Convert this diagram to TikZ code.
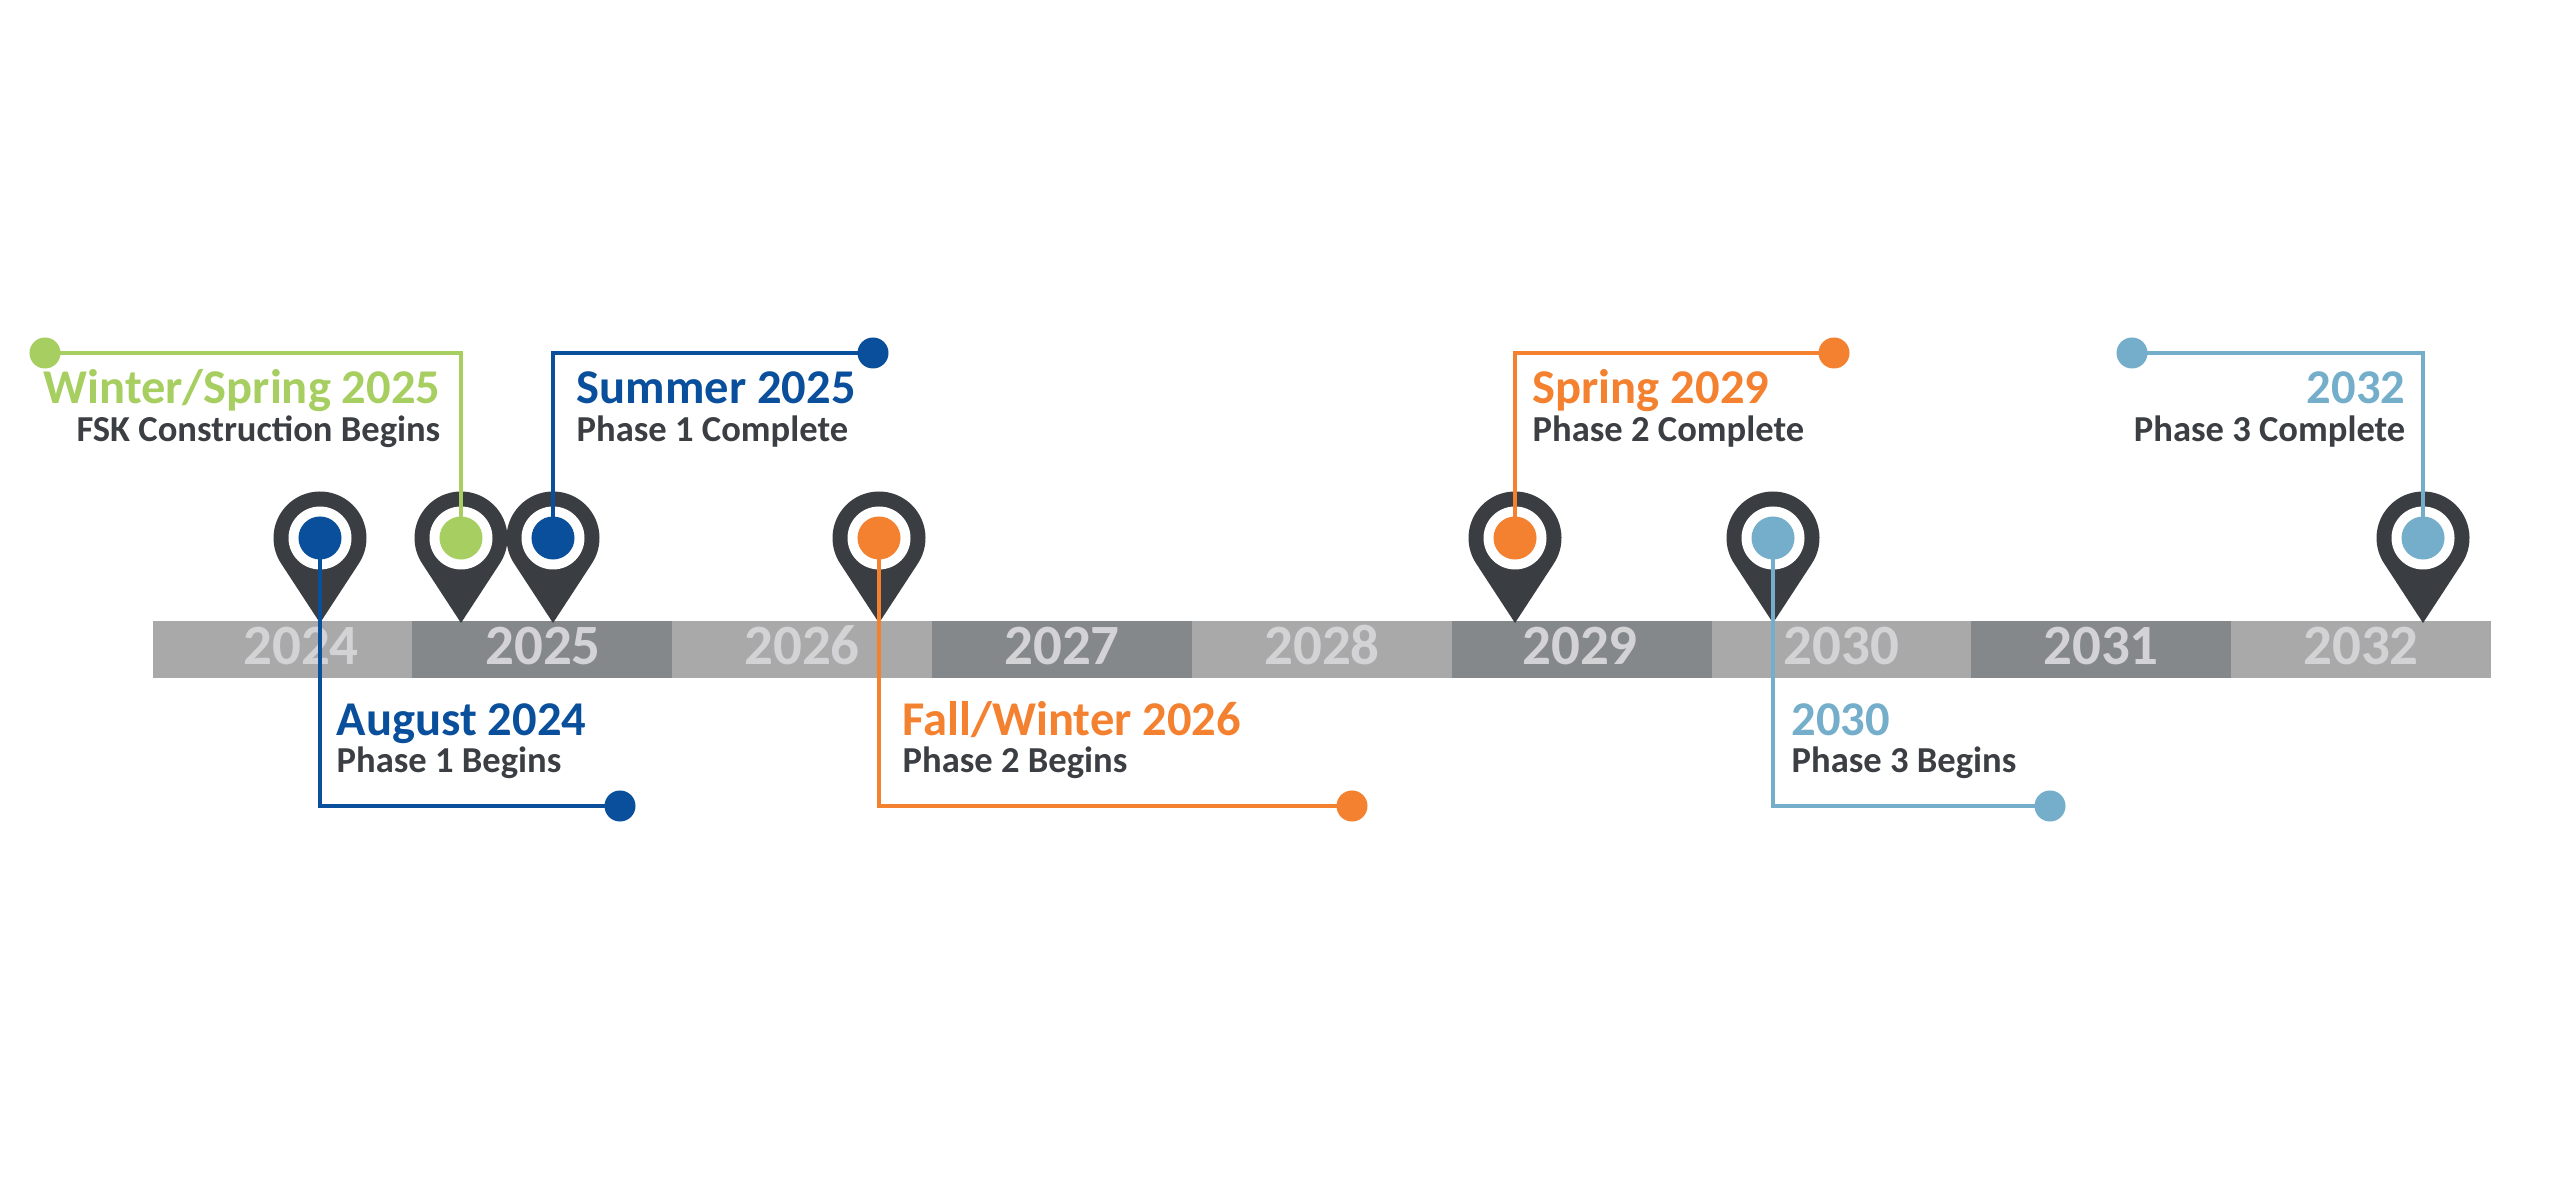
\documentclass[tikz,border=0pt]{standalone}
\usepackage{fontspec}
\setmainfont{Carlito}

\definecolor{plangreen}{HTML}{A6CE60}
\definecolor{planblue}{HTML}{0A4F9B}
\definecolor{planorange}{HTML}{F38130}
\definecolor{planlight}{HTML}{74AECB}
\definecolor{pindark}{HTML}{3A3D41}
\definecolor{subtext}{HTML}{3B3E42}
\definecolor{barlight}{HTML}{AAA9AA}
\definecolor{bardark}{HTML}{85888B}
\definecolor{yeartext}{HTML}{D3D2D4}

\tikzset{
	yearlabel/.style = { anchor = base, inner sep = 0pt, text = yeartext, font = \fontsize{16.2}{16.2}\selectfont\bfseries },
	eventtitle/.style = { inner sep = 0pt, font = \fontsize{13.8}{13.8}\selectfont\bfseries },
	eventsub/.style = { inner sep = 0pt, text = subtext, font = \fontsize{10.4}{10.4}\selectfont\bfseries },
	pinbody/.style = { fill = pindark },
	pindot/.style = { circle, inner sep = 0pt, minimum size = 0.43cm },
	enddot/.style = { circle, inner sep = 0pt, minimum size = 0.31cm },
	leader/.style = { line width = 1.3pt }
}

\begin{document}
\begin{tikzpicture}[x=0.01cm, y=-0.01cm]
		\useasboundingbox ( 0, 0 ) rectangle ( 2551, 1201 );

		% year bar
		\fill [barlight] (  152.5, 621 ) rectangle (  412.3, 678 );
		\fill [bardark]  (  412.3, 621 ) rectangle (  672.2, 678 );
		\fill [barlight] (  672.2, 621 ) rectangle (  932.0, 678 );
		\fill [bardark]  (  932.0, 621 ) rectangle ( 1191.8, 678 );
		\fill [barlight] ( 1191.8, 621 ) rectangle ( 1451.7, 678 );
		\fill [bardark]  ( 1451.7, 621 ) rectangle ( 1711.5, 678 );
		\fill [barlight] ( 1711.5, 621 ) rectangle ( 1971.3, 678 );
		\fill [bardark]  ( 1971.3, 621 ) rectangle ( 2231.2, 678 );
		\fill [barlight] ( 2231.2, 621 ) rectangle ( 2491.0, 678 );

		\node [yearlabel] (y2024) at (  301.0, 665 ) {2024};
		\node [yearlabel] (y2025) at (  543.0, 665 ) {2025};
		\node [yearlabel] (y2026) at (  802.0, 665 ) {2026};
		\node [yearlabel] (y2027) at ( 1062.0, 665 ) {2027};
		\node [yearlabel] (y2028) at ( 1322.0, 665 ) {2028};
		\node [yearlabel] (y2029) at ( 1580.0, 665 ) {2029};
		\node [yearlabel] (y2030) at ( 1841.5, 665 ) {2030};
		\node [yearlabel] (y2031) at ( 2101.0, 665 ) {2031};
		\node [yearlabel] (y2032) at ( 2361.0, 665 ) {2032};

		% pins
		\fill [pinbody] (  320, 538 ) ++( 33.2:46.5 ) arc [ start angle = 33.2, end angle = -213.2, radius = 46.5 ] -- (  320, 623 ) -- cycle;
		\fill [pinbody] (  461, 538 ) ++( 33.2:46.5 ) arc [ start angle = 33.2, end angle = -213.2, radius = 46.5 ] -- (  461, 623 ) -- cycle;
		\fill [pinbody] (  553, 538 ) ++( 33.2:46.5 ) arc [ start angle = 33.2, end angle = -213.2, radius = 46.5 ] -- (  553, 623 ) -- cycle;
		\fill [pinbody] (  879, 538 ) ++( 33.2:46.5 ) arc [ start angle = 33.2, end angle = -213.2, radius = 46.5 ] -- (  879, 623 ) -- cycle;
		\fill [pinbody] ( 1515, 538 ) ++( 33.2:46.5 ) arc [ start angle = 33.2, end angle = -213.2, radius = 46.5 ] -- ( 1515, 623 ) -- cycle;
		\fill [pinbody] ( 1773, 538 ) ++( 33.2:46.5 ) arc [ start angle = 33.2, end angle = -213.2, radius = 46.5 ] -- ( 1773, 623 ) -- cycle;
		\fill [pinbody] ( 2423, 538 ) ++( 33.2:46.5 ) arc [ start angle = 33.2, end angle = -213.2, radius = 46.5 ] -- ( 2423, 623 ) -- cycle;

		\fill [white] (  320, 538 ) circle [ radius = 31.5 ];
		\fill [white] (  461, 538 ) circle [ radius = 31.5 ];
		\fill [white] (  553, 538 ) circle [ radius = 31.5 ];
		\fill [white] (  879, 538 ) circle [ radius = 31.5 ];
		\fill [white] ( 1515, 538 ) circle [ radius = 31.5 ];
		\fill [white] ( 1773, 538 ) circle [ radius = 31.5 ];
		\fill [white] ( 2423, 538 ) circle [ radius = 31.5 ];

		\node [pindot, fill = planblue]   (pinAug)  at (  320, 538 ) {};
		\node [pindot, fill = plangreen]  (pinWS)   at (  461, 538 ) {};
		\node [pindot, fill = planblue]   (pinSum)  at (  553, 538 ) {};
		\node [pindot, fill = planorange] (pinFW)   at (  879, 538 ) {};
		\node [pindot, fill = planorange] (pinSpr)  at ( 1515, 538 ) {};
		\node [pindot, fill = planlight]  (pinB30)  at ( 1773, 538 ) {};
		\node [pindot, fill = planlight]  (pinC32)  at ( 2423, 538 ) {};

		% August 2024
		\node [enddot, fill = planblue] (endAug) at ( 620, 806 ) {};
		\draw [leader, planblue] (pinAug.center) |- (endAug.center);
		\node [eventtitle, anchor = base west, text = planblue] (titleAug) at ( 336, 736 ) {August 2024};
		\node [eventsub, anchor = base west] (subAug) at ( 336, 773 ) {Phase 1 Begins};

		% Winter/Spring 2025
		\node [enddot, fill = plangreen] (endWS) at ( 45, 353 ) {};
		\draw [leader, plangreen] (pinWS.center) |- (endWS.center);
		\node [eventtitle, anchor = base east, text = plangreen] (titleWS) at ( 441, 404 ) {Winter/Spring 2025};
		\node [eventsub, anchor = base east] (subWS) at ( 441, 442 ) {FSK Construction Begins};

		% Summer 2025
		\node [enddot, fill = planblue] (endSum) at ( 873, 353 ) {};
		\draw [leader, planblue] (pinSum.center) |- (endSum.center);
		\node [eventtitle, anchor = base west, text = planblue] (titleSum) at ( 576, 404 ) {Summer 2025};
		\node [eventsub, anchor = base west] (subSum) at ( 576, 442 ) {Phase 1 Complete};

		% Fall/Winter 2026
		\node [enddot, fill = planorange] (endFW) at ( 1352, 806 ) {};
		\draw [leader, planorange] (pinFW.center) |- (endFW.center);
		\node [eventtitle, anchor = base west, text = planorange] (titleFW) at ( 902, 736 ) {Fall/Winter 2026};
		\node [eventsub, anchor = base west] (subFW) at ( 902, 773 ) {Phase 2 Begins};

		% Spring 2029
		\node [enddot, fill = planorange] (endSpr) at ( 1834, 353 ) {};
		\draw [leader, planorange] (pinSpr.center) |- (endSpr.center);
		\node [eventtitle, anchor = base west, text = planorange] (titleSpr) at ( 1532, 404 ) {Spring 2029};
		\node [eventsub, anchor = base west] (subSpr) at ( 1532, 442 ) {Phase 2 Complete};

		% 2030
		\node [enddot, fill = planlight] (endB30) at ( 2050, 806 ) {};
		\draw [leader, planlight] (pinB30.center) |- (endB30.center);
		\node [eventtitle, anchor = base west, text = planlight] (titleB30) at ( 1791, 736 ) {2030};
		\node [eventsub, anchor = base west] (subB30) at ( 1791, 773 ) {Phase 3 Begins};

		% 2032
		\node [enddot, fill = planlight] (endC32) at ( 2132, 353 ) {};
		\draw [leader, planlight] (pinC32.center) |- (endC32.center);
		\node [eventtitle, anchor = base east, text = planlight] (titleC32) at ( 2406, 404 ) {2032};
		\node [eventsub, anchor = base east] (subC32) at ( 2406, 442 ) {Phase 3 Complete};
	\end{tikzpicture}
\end{document}
